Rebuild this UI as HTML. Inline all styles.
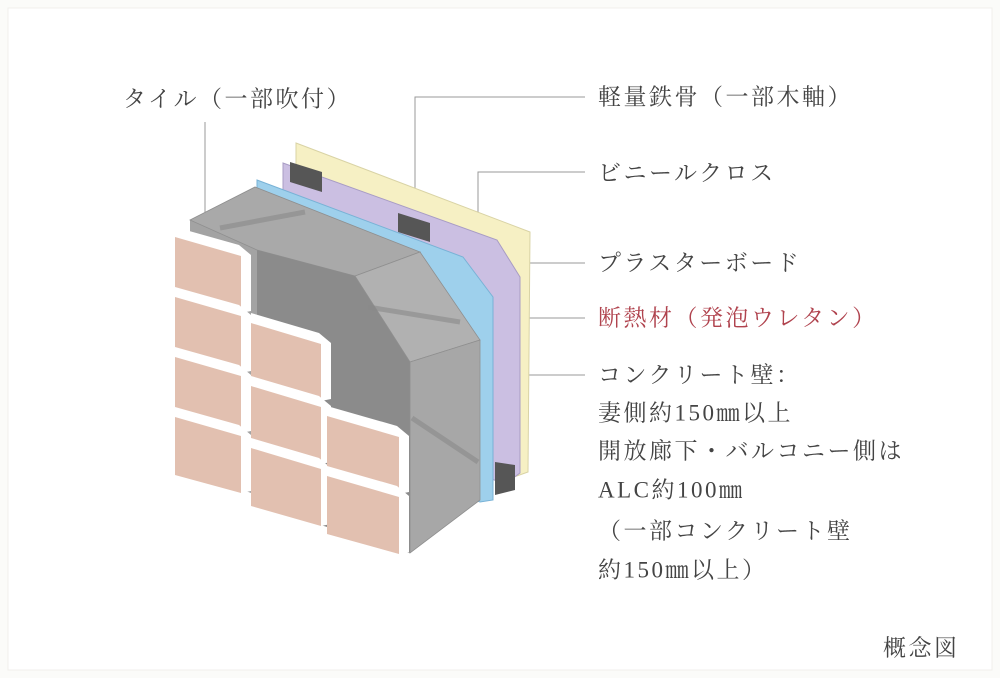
<!DOCTYPE html>
<html><head><meta charset="utf-8"><style>
html,body{margin:0;padding:0;background:#fbfbf9;}
svg{display:block;}
text{font-family:"Liberation Serif","Noto Serif CJK SC","Noto Sans CJK JP",serif;font-size:23px;letter-spacing:2.5px;fill:#444;dominant-baseline:central;}
</style></head><body>
<svg width="1000" height="678" viewBox="0 0 1000 678" xmlns="http://www.w3.org/2000/svg">
<rect x="0" y="0" width="1000" height="678" fill="#fbfbf9"/>
<rect x="8" y="8" width="984" height="662" fill="#ffffff" stroke="#f0efec"/>
<g stroke="#999" stroke-width="1" fill="none">
<polyline points="205,262 205,122"/>
<polyline points="415,225 415,97 585,97"/>
<polyline points="478,212 478,172 585,172"/>
<polyline points="520,263 585,263"/>
<polyline points="490,318 585,318"/>
<polyline points="465,375 585,375"/>
</g>
<polygon points="296,143 530,232 528,472 500,482 296,400" fill="#f6f0c4" stroke="#d9d3a5" stroke-width="1"/>
<polygon points="283,163 497,240 520,277 520,473 505,484 283,400" fill="#cbbfe2" stroke="#a89cc4" stroke-width="1"/>
<polygon points="290,162 322,172 322,192 290,182" fill="#565656"/>
<polygon points="398,213 430,223 430,242 398,232" fill="#565656"/>
<polygon points="495,462 515,465 515,490 495,495" fill="#565656"/>
<polygon points="257,180 463,257 493,297 493,500 480,502 257,420" fill="#9ed0ec" stroke="#78b2d6" stroke-width="1"/>
<polygon points="190,220 255,187 420,252 480,340 480,500 410,553 190,470" fill="#a3a3a3"/>
<polygon points="190,220 255,187 420,252 355,276 257,250" fill="#a9a9a9" stroke="#8f8f8f" stroke-width="0.8"/>
<polygon points="257,250 355,276 410,362 410,553 257,505" fill="#8b8b8b"/>
<polygon points="355,276 420,252 480,340 410,362" fill="#b1b1b1" stroke="#8f8f8f" stroke-width="0.8"/>
<polygon points="410,362 480,340 480,500 410,553" fill="#a7a7a7" stroke="#8f8f8f" stroke-width="0.8"/>
<g stroke="#8a8a8a" stroke-width="5" opacity="0.6">
<line x1="220" y1="228" x2="305" y2="212"/>
<line x1="368" y1="307" x2="460" y2="322"/>
<line x1="412" y1="418" x2="478" y2="462"/>
</g>
<g>
<g transform="translate(175,227)"><polygon points="0,0 64,18 76,28 76,84 66,86 0,66" fill="#fff"/><polygon points="0,10 66,29 66,86 0,68" fill="#e2c0b0"/></g>
<g transform="translate(175,287)"><polygon points="0,0 64,18 76,28 76,84 66,86 0,66" fill="#fff"/><polygon points="0,10 66,29 66,86 0,68" fill="#e2c0b0"/></g>
<g transform="translate(175,347)"><polygon points="0,0 64,18 76,28 76,84 66,86 0,66" fill="#fff"/><polygon points="0,10 66,29 66,86 0,68" fill="#e2c0b0"/></g>
<g transform="translate(175,407)"><polygon points="0,0 64,18 76,28 76,84 66,86 0,66" fill="#fff"/><polygon points="0,10 66,29 66,86 0,68" fill="#e2c0b0"/></g>
<g transform="translate(251,313)"><polygon points="0,0 68,20 80,30 80,86 70,88 0,66" fill="#fff"/><polygon points="0,10 70,31 70,88 0,68" fill="#e2c0b0"/></g>
<g transform="translate(251,376)"><polygon points="0,0 68,20 80,30 80,86 70,88 0,66" fill="#fff"/><polygon points="0,10 70,31 70,88 0,68" fill="#e2c0b0"/></g>
<g transform="translate(251,438)"><polygon points="0,0 68,20 80,30 80,86 70,88 0,66" fill="#fff"/><polygon points="0,10 70,31 70,88 0,68" fill="#e2c0b0"/></g>
<g transform="translate(327,406)"><polygon points="0,0 70,20 82,30 82,86 72,88 0,66" fill="#fff"/><polygon points="0,10 72,31 72,88 0,68" fill="#e2c0b0"/></g>
<g transform="translate(327,466)"><polygon points="0,0 70,20 82,30 82,86 72,88 0,66" fill="#fff"/><polygon points="0,10 72,31 72,88 0,68" fill="#e2c0b0"/></g>
</g>
<text x="123" y="99">タイル（一部吹付）</text>
<text x="598" y="97">軽量鉄骨（一部木軸）</text>
<text x="598" y="173">ビニールクロス</text>
<text x="598" y="263">プラスターボード</text>
<text x="598" y="318" style="fill:#b0434e">断熱材（発泡ウレタン）</text>
<text x="598" y="375">コンクリート壁：</text>
<text x="598" y="413">妻側約150㎜以上</text>
<text x="598" y="451">開放廊下・バルコニー側は</text>
<text x="598" y="490">ALC約100㎜</text>
<text x="598" y="531">（一部コンクリート壁</text>
<text x="598" y="570">約150㎜以上）</text>
<text x="883" y="648">概念図</text>
</svg>
</body></html>
